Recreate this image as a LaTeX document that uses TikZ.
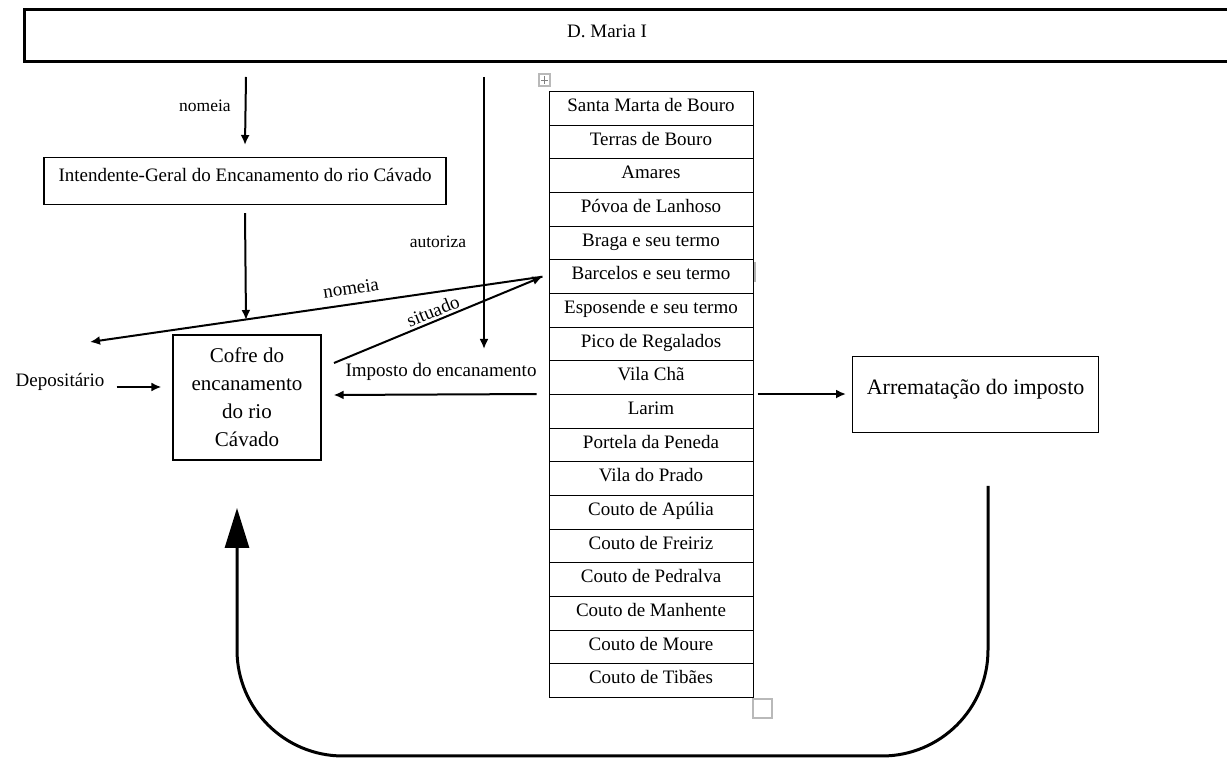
\documentclass[tikz,border=0pt]{standalone}
\usepackage{fontspec}
\setmainfont{Liberation Serif}
\usetikzlibrary{positioning,arrows.meta,calc}

\begin{document}
\begin{tikzpicture}[x=0.5pt, y=-0.5pt,
  bx/.style={draw, line width=0.6pt, inner sep=0pt},
  cell/.style={draw, line width=0.5pt, anchor=north, minimum width=102pt,
               inner xsep=0pt, inner ysep=0pt, text height=10pt, text depth=6.84pt,
               font=\fontsize{9.5}{11}\selectfont},
  lb/.style={inner sep=1pt, font=\fontsize{9.5}{11}\selectfont},
  lbs/.style={inner sep=1pt, font=\fontsize{8.75}{10}\selectfont},
  arr/.style={-{Latex[length=5pt,width=4.5pt]}, line width=1pt},
  big/.style={-{Triangle[length=20pt,width=12pt]}, line width=1.5pt},
  wd/.style={draw=gray!55, line width=0.6pt},
]
\clip (0,0) rectangle (1227,758);

% --- crown ---
\node[bx, line width=1.5pt, anchor=north west, minimum width=606pt, minimum height=26pt] (maria) at (23,8) {};
\node[lb] (mariat) at (607,31) {D. Maria I};

% --- boxes ---
\node[bx, anchor=north, minimum width=201pt, text height=12pt, text depth=11.5pt,
      font=\fontsize{9.5}{11}\selectfont] (inten) at (245,157) {Intendente-Geral do Encanamento do rio Cávado};
\node[bx, minimum width=74pt, minimum height=62.5pt, align=center,
      font=\fontsize{10.5}{14}\selectfont] (cofre) at (247,397.5) {Cofre do\\encanamento\\do rio\\Cávado};
\node[bx, anchor=north west, minimum width=123pt, text height=19pt, text depth=19pt,
      font=\fontsize{11}{13}\selectfont] (arrem) at (852,356) {Arrematação do imposto};

% --- table of places ---
\foreach \t [count=\i] in {Santa Marta de Bouro, Terras de Bouro, Amares, Póvoa de Lanhoso,
    Braga e seu termo, Barcelos e seu termo, Esposende e seu termo, Pico de Regalados,
    Vila Chã, Larim, Portela da Peneda, Vila do Prado, Couto de Apúlia, Couto de Freiriz,
    Couto de Pedralva, Couto de Manhente, Couto de Moure, Couto de Tibães}
  \node[cell] (c\i) at (651,{91+33.67*(\i-1)}) {\t};

% --- labels ---
\node[lbs] (nm1) at (205,106) {nomeia};
\node[lbs] (aut) at (438,242) {autoriza};
\node[lb] (dep) at (60,382) {Depositário};
\node[lb] (imp) at (441,372) {Imposto do encanamento};
\node[lb, rotate=8.3] (nm2) at (351,288) {nomeia};
\node[lb, rotate=22] (sit) at (433,311) {situado};

% --- free ends ---
\coordinate (n1a) at (246,77);
\coordinate (n1b) at (246,320);
\coordinate (aua) at (484,77);
\coordinate (aub) at (484,349);
\coordinate (depL) at (90,342);
\coordinate (sitA) at (334,363);
\coordinate (ua) at (988,486);
\coordinate (ub) at (237,508);

% --- arrows ---
\draw[arr] (n1a) -- ([yshift=6pt]inten.north);
\draw[arr] ([yshift=-4pt]inten.south) -- (n1b);
\draw[arr] ([xshift=-3pt]c6.west) -- (depL);
\draw[arr] (sitA) -- ([xshift=-3pt]c6.west);
\draw[arr] (aua) -- (aub);
\draw[arr] ($(c10.north west)+(-6pt,0)$) -- ($(cofre.east)+(6pt,1.25pt)$);
\draw[arr] ($(dep.east)+(5pt,-2.5pt)$) -- ($(cofre.west)+(-5.5pt,5.25pt)$);
\draw[arr, shorten >=3pt] ($(c10.north east)+(2pt,0)$) -- (arrem.west |- c10.north east);
\draw[big, rounded corners=53pt] (ua) -- (988,756) -- (237,756) -- (ub);

% --- word handles ---
\draw[wd] (539,74) rectangle (550,86);
\draw[gray, line width=0.4pt] (541,80) -- (548,80) (544.5,76) -- (544.5,84);
\draw[wd] (753,699) rectangle (772,718);
\draw[gray!60, line width=1pt] (754.5,262) -- (754.5,282);
\end{tikzpicture}
\end{document}
